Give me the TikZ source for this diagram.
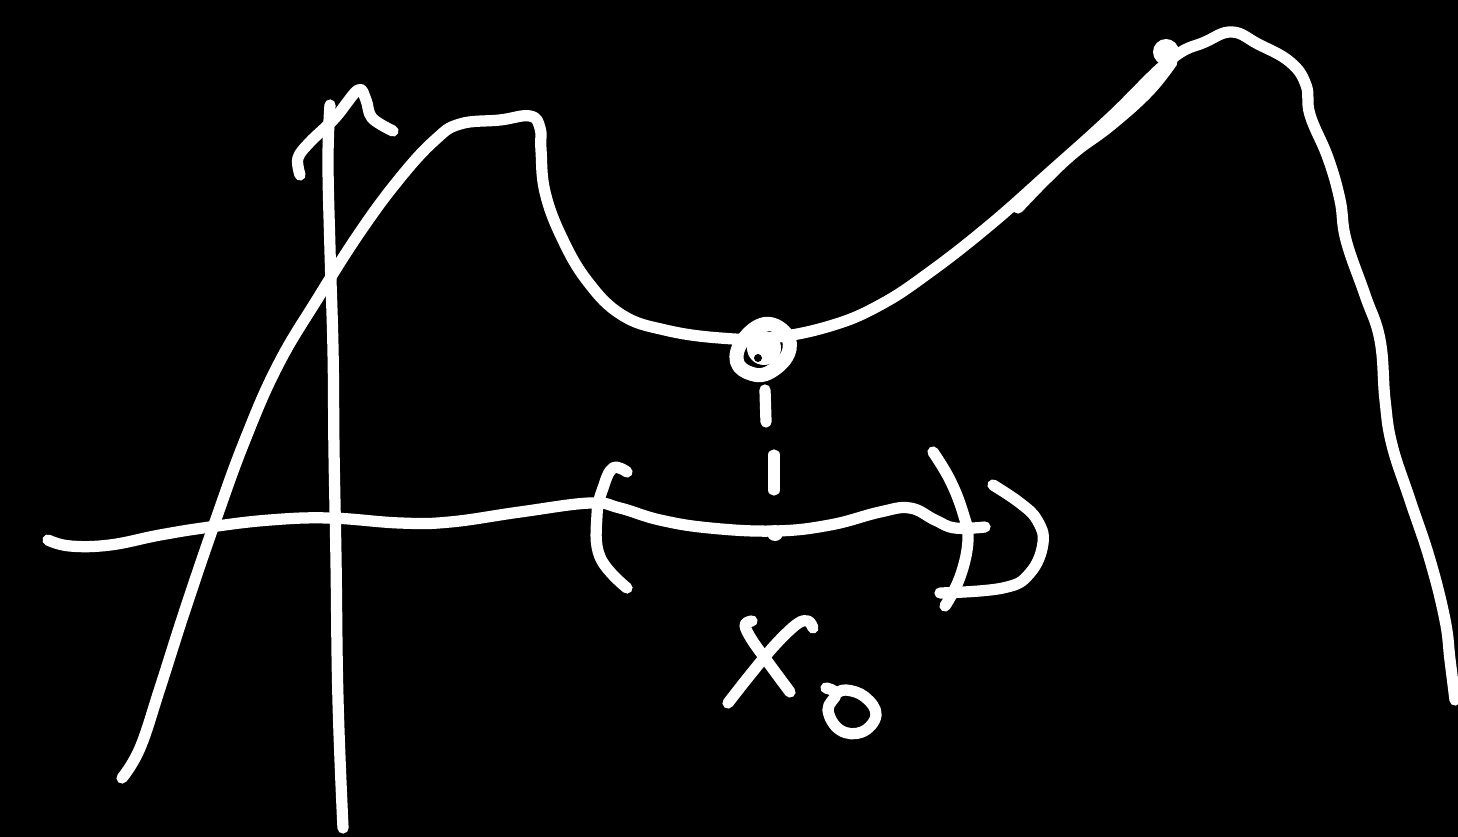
\documentclass[tikz,border=0pt]{standalone}
\begin{document}
\begin{tikzpicture}[x=0.01cm,y=-0.01cm,
  pen/.style={draw=white,line width=3.2pt,line cap=round,line join=round}]
\fill[black] (0,0) rectangle (1458,837);
\useasboundingbox (0,0) rectangle (1458,837);
% vertical axis
\draw[pen] plot[smooth,tension=0.7] coordinates {(343,828) (338,700) (336,560) (334,450) (333,350) (330,250) (328,160) (330,105)};
% arrow head
\draw[pen] plot[smooth,tension=0.6] coordinates {(300,175) (298,158) (310,142) (335,118) (358,90) (366,100) (372,118) (393,131)};
% horizontal axis
\draw[pen] plot[smooth,tension=0.7] coordinates {(48,540) (70,546) (110,545) (160,535) (210,527) (270,520) (330,518) (400,523) (450,522) (520,512) (590,503) (620,508) (660,520) (710,528) (775,531) (830,525) (880,512) (910,508) (935,520) (955,528) (985,527)};
% curve
\draw[pen] plot[smooth,tension=0.7] coordinates {(122,778) (140,748) (160,688) (185,610) (215,522) (245,440) (278,365) (318,298) (360,232) (400,178) (435,140) (460,124) (500,120) (530,116) (540,128) (541,150) (545,192) (562,238) (588,282) (622,315) (665,330) (720,338) (770,338) (830,326) (880,305) (930,272) (990,225) (1050,172) (1110,118) (1170,60) (1205,42) (1232,32) (1258,44) (1290,62) (1306,85) (1310,115) (1328,158) (1340,200) (1346,240) (1365,295) (1380,340) (1385,400) (1392,445) (1410,500) (1430,560) (1445,620) (1450,660) (1455,700)};
% overlapping stroke near top right
\draw[pen] plot[smooth,tension=0.7] coordinates {(1018,208) (1045,180) (1075,152) (1110,126) (1148,92) (1172,62)};
\fill[white] (1166,52) circle (13);
% left paren
\draw[pen] plot[smooth,tension=0.7] coordinates {(627,472) (613,468) (603,488) (597,515) (600,557) (627,588)};
% right paren 1
\draw[pen] plot[smooth,tension=0.7] coordinates {(933,452) (950,480) (963,513) (968,540) (960,577) (945,606)};
% right paren 2
\draw[pen] plot[smooth,tension=0.7] coordinates {(993,485) (1020,503) (1037,520) (1043,543) (1030,573) (1003,588) (940,593)};
% knot at the minimum
\draw[pen,line width=4pt] plot[smooth cycle,tension=0.7] coordinates {(752,374) (737,362) (743,340) (765,324) (786,334) (788,354) (770,372)};
\fill[white] (764,348) circle (17);
\fill[black] (758,358) circle (4);
% dashed drop line
\draw[pen] (765,390) -- (766,422);
\draw[pen] (774,455) -- (774,490);
\fill[white] (775,533) circle (8);
% x_0 label
\draw[pen] plot[smooth,tension=0.6] coordinates {(752,621) (745,625) (752,640) (770,665) (790,692)};
\draw[pen] plot[smooth,tension=0.6] coordinates {(813,628) (808,621) (797,624) (775,645) (750,675) (728,703)};
\draw[pen] plot[smooth,tension=0.7] coordinates {(826,688) (836,694) (828,710) (840,730) (862,732) (876,715) (865,697) (846,690) (836,694)};
\end{tikzpicture}
\end{document}
